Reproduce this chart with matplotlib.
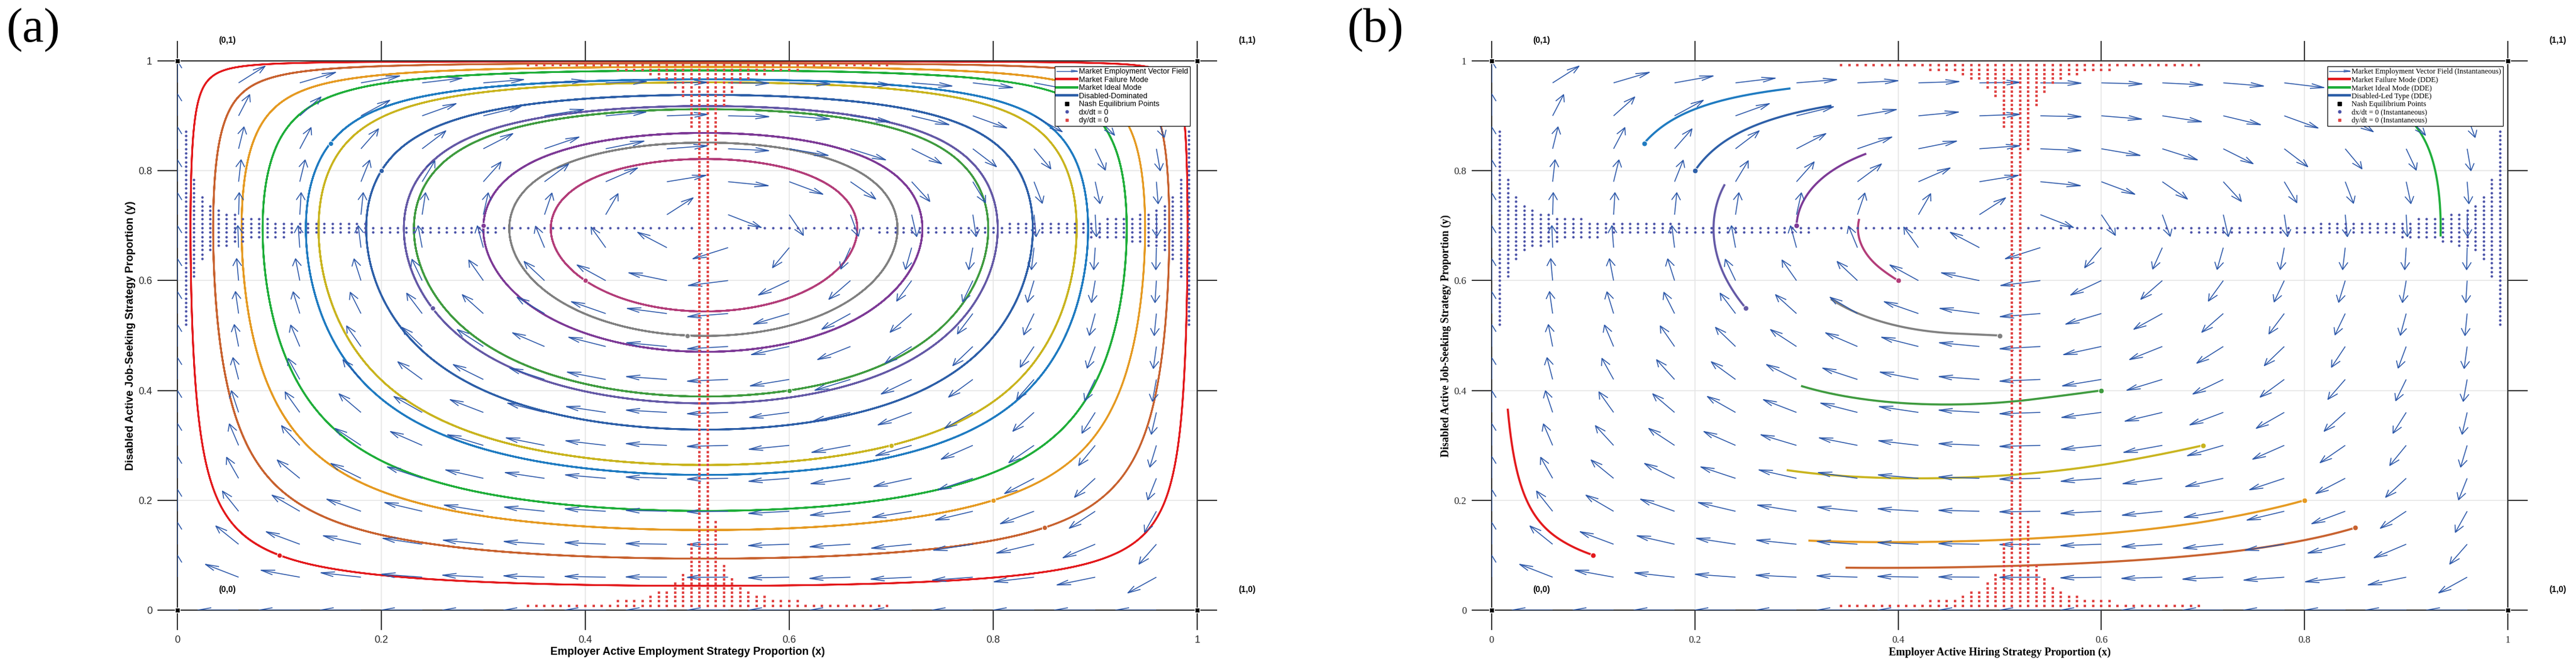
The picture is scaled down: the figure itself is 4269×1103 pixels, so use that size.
import numpy as np
import matplotlib
matplotlib.use("Agg")
import matplotlib.pyplot as plt
from matplotlib.lines import Line2D
from matplotlib.collections import LineCollection
from matplotlib.legend_handler import HandlerBase

# ---------------- data / model values ----------------
X_STAR = 0.5175          # dy/dt = 0 nullcline position
Y_STAR = 0.6946          # dx/dt = 0 nullcline position
NULL_EPS = 0.00143       # tolerance used for the nullcline dot bands
NULL_STEP = 0.008        # spacing of the nullcline dot grid

field_x = [0.00, 0.06, 0.12, 0.18, 0.24, 0.30, 0.36, 0.42, 0.48,
           0.54, 0.60, 0.66, 0.72, 0.78, 0.84, 0.90, 0.96]
field_y = [0.00, 0.06, 0.12, 0.18, 0.24, 0.30, 0.36, 0.42, 0.48,
           0.54, 0.60, 0.66, 0.72, 0.78, 0.84, 0.90, 0.96]
ARROW_LEN = 0.04

init_x = [0.10, 0.90, 0.20, 0.15, 0.25, 0.30, 0.40, 0.50, 0.60, 0.70, 0.80, 0.85]
init_y = [0.10, 0.90, 0.80, 0.85, 0.55, 0.70, 0.60, 0.50, 0.40, 0.30, 0.20, 0.15]
traj_colors = ["#e3191c", "#1fae3a", "#2d5fa8", "#1f7bc1", "#6459a6", "#7d3a96",
               "#b33d79", "#808080", "#3f9b3f", "#c9b41e", "#e59a22", "#c8622f"]
labels_a = ["Market Failure Mode", "Market Ideal Mode", "Disabled-Dominated"]
labels_b = ["Market Failure Mode (DDE)", "Market Ideal Mode (DDE)", "Disabled-Led Type (DDE)"]

eq_x = [0, 0, 1, 1]
eq_y = [0, 1, 0, 1]
eq_labels = ["(0,0)", "(0,1)", "(1,0)", "(1,1)"]

ticks = [0, 0.2, 0.4, 0.6, 0.8, 1]
tick_labels = ["0", "0.2", "0.4", "0.6", "0.8", "1"]

T_ORBIT = 110.0
T_DDE = 3.6
TAU_X = 0.8        # delay of x felt by the job seekers
DDE_RATE_X = 1.1   # relative adjustment speed of employers in the delayed model

ARROW_COLOR = "#2a56a8"
XDOT_COLOR = "#4a52a8"
YDOT_COLOR = "#e04646"

SANS = ["Liberation Sans", "Arial", "DejaVu Sans"]
SERIF = ["Liberation Serif", "Times New Roman", "DejaVu Serif"]


def field(x, y):
    return x * (1 - x) * (y - Y_STAR), y * (1 - y) * (X_STAR - x)


def integrate(x0, y0, T, dt):
    x = np.array(x0, float)
    y = np.array(y0, float)
    n = int(round(T / dt))
    xs = [x.copy()]
    ys = [y.copy()]
    for _ in range(n):
        k1x, k1y = field(x, y)
        k2x, k2y = field(x + 0.5 * dt * k1x, y + 0.5 * dt * k1y)
        k3x, k3y = field(x + 0.5 * dt * k2x, y + 0.5 * dt * k2y)
        k4x, k4y = field(x + dt * k3x, y + dt * k3y)
        x = x + dt / 6 * (k1x + 2 * k2x + 2 * k3x + k4x)
        y = y + dt / 6 * (k1y + 2 * k2y + 2 * k3y + k4y)
        xs.append(x.copy())
        ys.append(y.copy())
    return np.array(xs), np.array(ys)


def integrate_dde(x0, y0, T, tau_x, rate_x, dt):
    n = int(round(T / dt))
    lx = max(int(round(tau_x / dt)), 1)
    xs = np.zeros((n + 1, len(x0)))
    ys = np.zeros((n + 1, len(y0)))
    xs[0] = x0
    ys[0] = y0
    for i in range(n):
        x, y = xs[i], ys[i]
        xd0 = xs[max(i - lx, 0)]
        xd1 = xs[max(i + 1 - lx, 0)]
        fx = rate_x * x * (1 - x) * (y - Y_STAR)
        fy = y * (1 - y) * (X_STAR - xd0)
        xp = x + dt * fx
        yp = y + dt * fy
        gx = rate_x * xp * (1 - xp) * (yp - Y_STAR)
        gy = yp * (1 - yp) * (X_STAR - xd1)
        xs[i + 1] = x + 0.5 * dt * (fx + gx)
        ys[i + 1] = y + 0.5 * dt * (fy + gy)
    return xs, ys


class HandlerArrow(HandlerBase):
    def create_artists(self, legend, orig_handle, xdescent, ydescent,
                       width, height, fontsize, trans):
        y = height / 2 - ydescent
        x0 = -xdescent
        x1 = x0 + width
        hl = 0.28 * width
        hw = 0.16 * height
        shaft = Line2D([x0, x1], [y, y], color=ARROW_COLOR, lw=1.0, transform=trans)
        head = Line2D([x1 - hl, x1, x1 - hl], [y + hw, y, y - hw],
                      color=ARROW_COLOR, lw=1.0, transform=trans)
        return [shaft, head]


def draw_field(ax):
    X, Y = np.meshgrid(field_x, field_y)
    U, V = field(X, Y)
    L = np.hypot(U, V)
    m = L > 0
    x0 = X[m]
    y0 = Y[m]
    u = U[m] / L[m] * ARROW_LEN
    v = V[m] / L[m] * ARROW_LEN
    tx = x0 + u
    ty = y0 + v
    a, b = 0.33, 0.33
    h1x = tx - a * (u + b * v)
    h1y = ty - a * (v - b * u)
    h2x = tx - a * (u - b * v)
    h2y = ty - a * (v + b * u)
    segs = []
    for i in range(len(x0)):
        segs.append([(x0[i], y0[i]), (tx[i], ty[i])])
        segs.append([(h1x[i], h1y[i]), (tx[i], ty[i]), (h2x[i], h2y[i])])
    lc = LineCollection(segs, colors=ARROW_COLOR, linewidths=1.1, zorder=3)
    ax.add_collection(lc)


def draw_nullclines(ax):
    g = np.arange(1, int(round(1 / NULL_STEP))) * NULL_STEP
    XX, YY = np.meshgrid(g, g)
    DX, DY = field(XX, YY)
    mx = np.abs(DX) < NULL_EPS
    my = np.abs(DY) < NULL_EPS
    ax.scatter(XX[mx], YY[mx], s=9, marker="o", color=XDOT_COLOR, linewidths=0, zorder=4)
    ax.scatter(XX[my], YY[my], s=7, marker="s", color=YDOT_COLOR, linewidths=0, zorder=4)


def style_axes(ax, family, xlabel, ylabel):
    ax.set_xlim(0, 1)
    ax.set_ylim(0, 1)
    ax.set_xticks(ticks)
    ax.set_yticks(ticks)
    ax.set_xticklabels(tick_labels, family=family, fontsize=12, color="#262626")
    ax.set_yticklabels(tick_labels, family=family, fontsize=12, color="#262626")
    ax.tick_params(direction="out", length=24, width=1.4, color="#333333",
                   top=True, right=True, pad=6)
    ax.grid(True, color="#e6e6e6", lw=1.2, zorder=0)
    ax.set_axisbelow(True)
    for s in ax.spines.values():
        s.set_linewidth(1.5)
        s.set_color("#333333")
    ax.set_xlabel(xlabel, family=family, fontweight="bold", fontsize=13, labelpad=3)
    ax.set_ylabel(ylabel, family=family, fontweight="bold", fontsize=13, labelpad=3)
    for ex, ey, lab in zip(eq_x, eq_y, eq_labels):
        ax.text(ex + 0.049, ey + 0.037, lab, family=SANS, fontweight="bold",
                fontsize=10, ha="center", va="center", clip_on=False)
    ax.plot(eq_x, eq_y, ls="none", marker="s", ms=6, color="k", mec="white",
            mew=1.0, clip_on=False, zorder=6)


fig = plt.figure(figsize=(42.69, 11.03), dpi=100)
W, H = 4269.0, 1103.0
ax_a = fig.add_axes([294 / W, 91 / H, 1690 / W, 911 / H])
ax_b = fig.add_axes([2472 / W, 91 / H, 1684 / W, 911 / H])

# ---------------- panel (a): closed orbits ----------------
xa, ya = integrate(init_x, init_y, T_ORBIT, 0.01)
handles_a = []
for i, c in enumerate(traj_colors):
    ln, = ax_a.plot(xa[:, i], ya[:, i], color=c, lw=2.0, zorder=2)
    if i < len(labels_a):
        ln.set_label(labels_a[i])
        handles_a.append(ln)
draw_field(ax_a)
draw_nullclines(ax_a)
for i, c in enumerate(traj_colors):
    ax_a.plot(init_x[i], init_y[i], marker="o", ms=6, color=c, mec="white",
              mew=0.8, zorder=5)
style_axes(ax_a, SANS, "Employer Active Employment Strategy Proportion (x)",
           "Disabled Active Job-Seeking Strategy Proportion (y)")

# ---------------- panel (b): delayed trajectories ----------------
xb, yb = integrate_dde(init_x, init_y, T_DDE, TAU_X, DDE_RATE_X, 0.002)
handles_b = []
for i, c in enumerate(traj_colors):
    ln, = ax_b.plot(xb[:, i], yb[:, i], color=c, lw=2.5, zorder=2)
    if i < len(labels_b):
        ln.set_label(labels_b[i])
        handles_b.append(ln)
draw_field(ax_b)
draw_nullclines(ax_b)
for i, c in enumerate(traj_colors):
    ax_b.plot(init_x[i], init_y[i], marker="o", ms=6.5, color=c, mec="white",
              mew=0.8, zorder=5)
style_axes(ax_b, SERIF, "Employer Active Hiring Strategy Proportion (x)",
           "Disabled Active Job-Seeking Strategy Proportion (y)")

# ---------------- legends ----------------
arrow_proxy = Line2D([], [], color=ARROW_COLOR)
nash_proxy = Line2D([], [], ls="none", marker="s", ms=4, color="k")
xdot_proxy = Line2D([], [], ls="none", marker="o", ms=3.2, color=XDOT_COLOR)
ydot_proxy = Line2D([], [], ls="none", marker="s", ms=3.0, color=YDOT_COLOR)


def make_legend(ax, handles, names, family, anchor):
    hs = [arrow_proxy] + [Line2D([], [], color=h.get_color(), lw=3.0) for h in handles] + \
         [nash_proxy, xdot_proxy, ydot_proxy]
    leg = ax.legend(hs, names, loc="upper right", bbox_to_anchor=anchor,
                    borderaxespad=0, prop={"family": family, "size": 9},
                    handlelength=2.7, handletextpad=0.25, labelspacing=0.12,
                    borderpad=0.25, fancybox=False, framealpha=1, edgecolor="k",
                    handler_map={arrow_proxy: HandlerArrow()})
    leg.get_frame().set_linewidth(0.8)
    leg.set_zorder(10)


make_legend(ax_a, handles_a,
            ["Market Employment Vector Field"] + labels_a +
            ["Nash Equilibrium Points", "dx/dt = 0", "dy/dt = 0"],
            SANS, (0.993, 0.990))
make_legend(ax_b, handles_b,
            ["Market Employment Vector Field (Instantaneous)"] + labels_b +
            ["Nash Equilibrium Points", "dx/dt = 0 (Instantaneous)",
             "dy/dt = 0 (Instantaneous)"],
            SERIF, (0.9953, 0.990))

fig.text(10 / W, 1 - 50 / H, "(a)", family=SERIF, fontsize=58, ha="left", va="center")
fig.text(2232 / W, 1 - 50 / H, "(b)", family=SERIF, fontsize=58, ha="left", va="center")

fig.savefig("out.png", dpi=100, facecolor="white")
